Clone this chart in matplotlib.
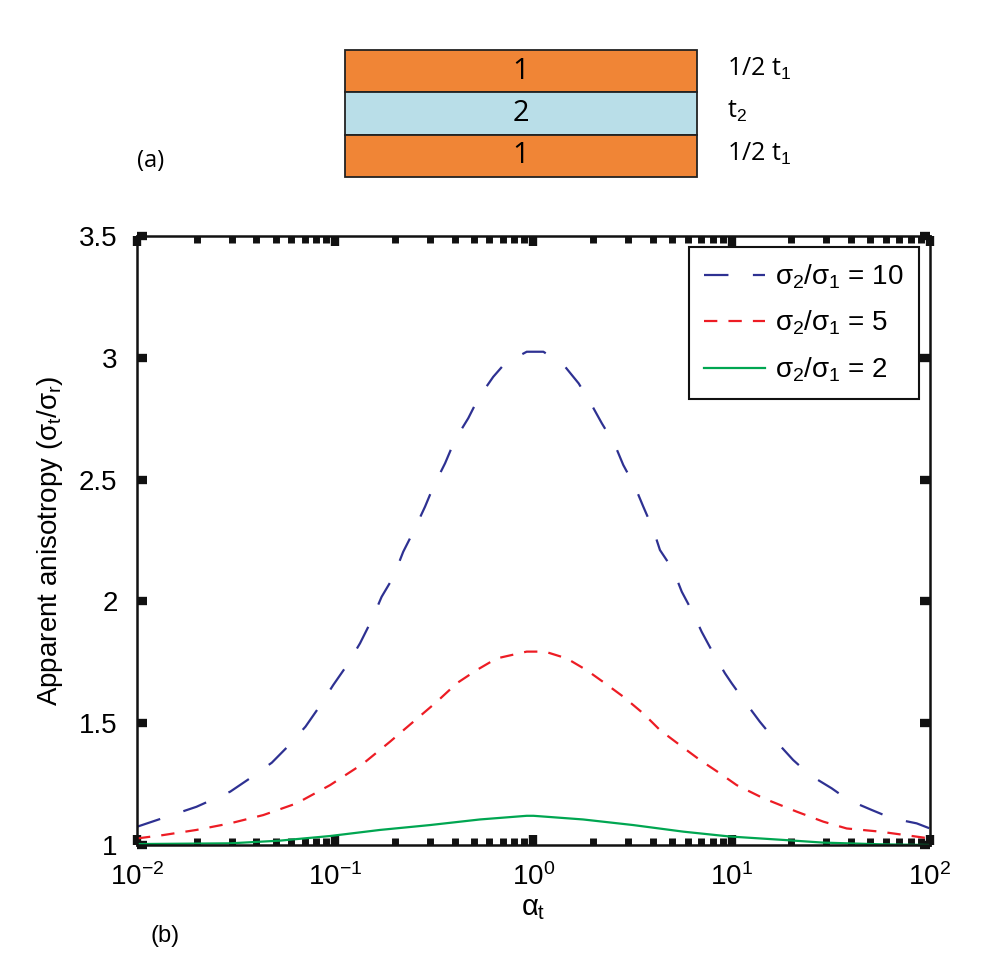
import matplotlib
matplotlib.use('Agg')
import matplotlib.pyplot as plt
from matplotlib.patches import Rectangle
from matplotlib.ticker import LogLocator, FixedLocator
import numpy as np

plt.rcParams['font.family'] = ['Liberation Sans', 'DejaVu Sans']
plt.rcParams['mathtext.fontset'] = 'custom'
plt.rcParams['mathtext.rm'] = 'Liberation Sans'
plt.rcParams['mathtext.it'] = 'Liberation Sans'
plt.rcParams['mathtext.bf'] = 'Liberation Sans:bold'

# layered model (panel a)
layer_names = ['1', '2', '1']
layer_thick = ['1/2 t$_1$', 't$_2$', '1/2 t$_1$']
layer_colors = ['#F08536', '#B9DEE8', '#F08536']

# apparent anisotropy curves (panel b), x as log10(alpha_t)
log_a_10 = [-2.0, -1.70, -1.53, -1.43, -1.32, -1.24, -1.15, -1.08, -1.01, -0.94, -0.875, -0.816,
            -0.766, -0.707, -0.657, -0.606, -0.547, -0.505, -0.446, -0.396, -0.329, -0.278, -0.203,
            -0.144, -0.034, 0.05, 0.153, 0.228, 0.294, 0.345, 0.411, 0.453, 0.512, 0.554, 0.605,
            0.638, 0.705, 0.748, 0.806, 0.848, 0.907, 0.966, 1.0, 1.067, 1.142, 1.218, 1.31, 1.395,
            1.504, 1.588, 1.706, 1.807, 1.933, 2.0]
ani_10 = [1.075, 1.157, 1.219, 1.274, 1.338, 1.404, 1.486, 1.568, 1.657, 1.739, 1.828, 1.924,
          2.019, 2.10, 2.204, 2.286, 2.389, 2.471, 2.567, 2.663, 2.752, 2.834, 2.922,
          2.977, 3.025, 3.025, 2.97, 2.895, 2.806, 2.731, 2.642, 2.56, 2.471, 2.389, 2.293,
          2.211, 2.129, 2.04, 1.951, 1.876, 1.787, 1.705, 1.664, 1.588, 1.506, 1.431, 1.349, 1.287,
          1.233, 1.185, 1.144, 1.11, 1.089, 1.068]

log_a_5 = [-2.0, -1.867, -1.70, -1.53, -1.363, -1.195, -1.026, -0.858, -0.724, -0.606, -0.488,
           -0.387, -0.287, -0.186, -0.034, 0.058, 0.168, 0.268, 0.361, 0.453, 0.554, 0.638, 0.739,
           0.84, 0.941, 1.025, 1.16, 1.328, 1.462, 1.58, 1.748, 2.0]
ani_5 = [1.027, 1.041, 1.062, 1.089, 1.123, 1.171, 1.246, 1.335, 1.424, 1.506, 1.588,
         1.664, 1.718, 1.766, 1.794, 1.794, 1.766, 1.718, 1.664, 1.609, 1.54, 1.472, 1.41,
         1.349, 1.294, 1.246, 1.192, 1.137, 1.096, 1.068, 1.055, 1.027]

log_a_2 = [-2.0, -1.53, -1.28, -1.026, -0.774, -0.522, -0.27, -0.034, 0.0, 0.25, 0.503, 0.755,
           0.99, 1.26, 1.46, 1.75, 2.0]
ani_2 = [1.004, 1.007, 1.018, 1.037, 1.062, 1.082, 1.105, 1.12, 1.12, 1.105, 1.082, 1.055,
         1.035, 1.021, 1.01, 1.003, 1.0]

series_labels = [r'$\sigma_2/\sigma_1$ = 10', r'$\sigma_2/\sigma_1$ = 5', r'$\sigma_2/\sigma_1$ = 2']

fig = plt.figure(figsize=(9.87, 9.63), dpi=100)

# ---- panel (a): layer sketch ----
ax_a = fig.add_axes([0.3495, 0.8162, 0.3567, 0.1319])
ax_a.set_xlim(0, 1)
ax_a.set_ylim(0, len(layer_names))
ax_a.axis('off')
for i, (name, col, th) in enumerate(zip(layer_names, layer_colors, layer_thick)):
    y0 = len(layer_names) - 1 - i
    ax_a.add_patch(Rectangle((0, y0), 1, 1, facecolor=col, edgecolor='#222222', lw=1.3, clip_on=False))
    ax_a.text(0.5, y0 + 0.5, name, ha='center', va='center', fontsize=21, family='Open Sans')
    ax_a.text(1.085, y0 + 0.55, th, ha='left', va='center', fontsize=18, family='Open Sans')
fig.text(0.139, 0.833, '(a)', fontsize=17, family='Open Sans', ha='left', va='center')

# ---- panel (b): anisotropy curves ----
ax = fig.add_axes([0.1388, 0.1225, 0.8034, 0.6324])
ax.plot(np.power(10.0, log_a_10), ani_10, color='#2E3192', lw=1.6, dashes=(11, 11), label=series_labels[0])
ax.plot(np.power(10.0, log_a_5), ani_5, color='#ED1C24', lw=1.6, dashes=(6, 5), label=series_labels[1])
ax.plot(np.power(10.0, log_a_2), ani_2, color='#00A651', lw=1.6, label=series_labels[2])

ax.set_xscale('log')
ax.set_xlim(1e-2, 1e2)
ax.set_ylim(1, 3.5)
ax.yaxis.set_major_locator(FixedLocator([1, 1.5, 2, 2.5, 3, 3.5]))
ax.set_yticklabels(['1', '1.5', '2', '2.5', '3', '3.5'])
ax.xaxis.set_major_locator(LogLocator(base=10, numticks=10))
ax.xaxis.set_minor_locator(LogLocator(base=10, subs=np.arange(2, 10), numticks=20))

ax.tick_params(which='major', direction='in', length=7, width=6, top=True, right=True,
               labelsize=20, color='#111111')
ax.tick_params(axis='y', which='major', pad=14)
ax.tick_params(axis='x', which='major', pad=13)
ax.tick_params(which='minor', direction='in', length=5, width=5, top=True, right=True, color='#111111')
for sp in ax.spines.values():
    sp.set_linewidth(1.8)
    sp.set_color('#111111')

ax.set_xlabel(r'$\alpha_t$', fontsize=21, labelpad=2)
ax.set_ylabel(r'Apparent anisotropy ($\sigma_t/\sigma_r$)', fontsize=20, labelpad=10)

leg = ax.legend(loc='upper right', fontsize=20, frameon=True, fancybox=False, framealpha=1,
                edgecolor='#111111', borderaxespad=0.4, handlelength=2.2, labelspacing=0.65,
                borderpad=0.55, handletextpad=0.35)
leg.get_frame().set_linewidth(1.5)

fig.text(0.152, 0.028, '(b)', fontsize=17, ha='left', va='center')

fig.savefig('out.png', dpi=100)
